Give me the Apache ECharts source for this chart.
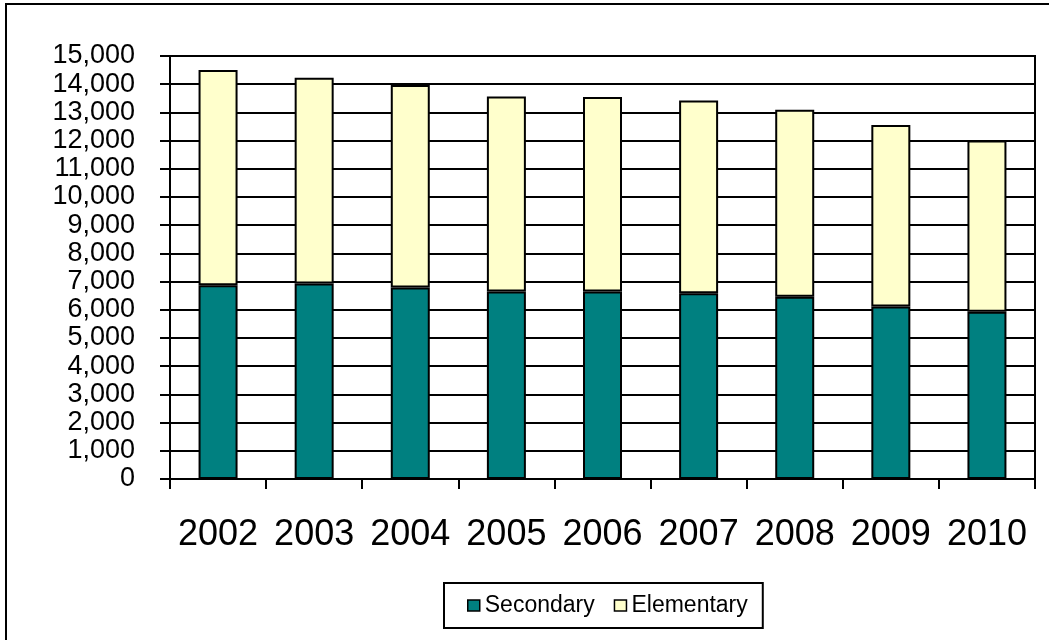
<!DOCTYPE html>
<html>
<head>
<meta charset="utf-8">
<script src="https://cdn.jsdelivr.net/npm/echarts@6/dist/echarts.min.js"></script>
<style>
	html, body { margin: 0; padding: 0; background: #fff; }
	#container { width: 1049px; height: 640px; }
</style>
</head>
<body>
<div id="container"></div>
<script>
// values
var years = ['2002', '2003', '2004', '2005', '2006', '2007', '2008', '2009', '2010'];
var secondary = [6870, 6930, 6790, 6650, 6650, 6590, 6460, 6120, 5930];
var elementary = [7630, 7300, 7180, 6910, 6900, 6830, 6630, 6430, 6070];
var yTicks = { min: 0, max: 15000, step: 1000 };

var font = '"Liberation Sans", Arial, sans-serif';

var myChart = echarts.init(document.getElementById('container'));
var option = {
	animation: false,
	backgroundColor: '#fff',
	textStyle: { fontFamily: font },
	graphic: [{
		type: 'rect',
		shape: { x: 6, y: 4, width: 1100, height: 700 },
		style: { fill: 'none', stroke: '#000', lineWidth: 2 },
		silent: true
	}],
	grid: {
		left: 170,
		right: 14,
		top: 56,
		bottom: 161,
		show: true,
		borderColor: '#000',
		borderWidth: 2,
		containLabel: false
	},
	legend: {
		left: 444,
		top: 583,
		padding: [11, 15, 11, 23],
		borderColor: '#000',
		borderWidth: 2,
		itemWidth: 12,
		itemHeight: 11,
		itemGap: 19,
		icon: 'rect',
		itemStyle: { borderColor: '#000', borderWidth: 1.5 },
		textStyle: { fontFamily: font, fontSize: 23, color: '#000' },
		data: ['Secondary', 'Elementary']
	},
	xAxis: {
		type: 'category',
		data: years,
		axisLine: { lineStyle: { color: '#000', width: 2 } },
		axisTick: { show: true, length: 10, interval: 0, lineStyle: { color: '#000', width: 2 } },
		axisLabel: { margin: 38, fontSize: 36, color: '#000', fontFamily: font, interval: 0 },
		splitLine: { show: false }
	},
	yAxis: {
		type: 'value',
		min: yTicks.min,
		max: yTicks.max,
		interval: yTicks.step,
		axisLine: { show: true, lineStyle: { color: '#000', width: 2 } },
		axisTick: { show: true, length: 10, lineStyle: { color: '#000', width: 2 } },
		axisLabel: {
			margin: 35,
			fontSize: 27,
			color: '#000',
			fontFamily: font,
			formatter: function (v) { return v.toLocaleString('en-US'); }
		},
		splitLine: { show: true, lineStyle: { color: '#000', width: 2 } }
	},
	series: [
		{
			name: 'Secondary',
			type: 'bar',
			stack: 'total',
			barWidth: 39,
			data: secondary,
			itemStyle: { color: '#008080', borderColor: '#000', borderWidth: 2 }
		},
		{
			name: 'Elementary',
			type: 'bar',
			stack: 'total',
			barWidth: 39,
			data: elementary,
			itemStyle: { color: '#FFFFCC', borderColor: '#000', borderWidth: 2 }
		}
	]
};
myChart.setOption(option);
</script>
</body>
</html>
